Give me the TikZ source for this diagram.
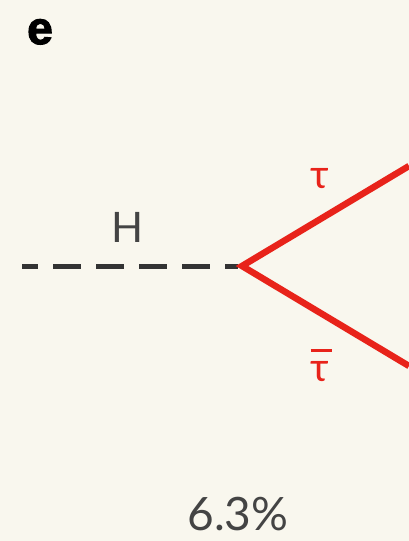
\documentclass[tikz,border=0pt]{standalone}
\usepackage{fontspec}
\setmainfont{Lato}
\newfontfamily\boldsans[FakeBold=2.5]{Liberation Sans}
\definecolor{bgcream}{HTML}{F9F7EE}
\definecolor{inkgray}{HTML}{444444}
\definecolor{taured}{HTML}{E8231A}
\begin{document}
\begin{tikzpicture}[x=1pt,y=-1pt,
  lbl/.style={inner sep=0pt, anchor=base},
  higgs/.style={draw=black!80, line width=5pt, dash pattern=on 28pt off 15pt, dash phase=12pt},
  fermion/.style={draw=taured, line width=6.5pt, miter limit=10}]
\fill[bgcream] (0,0) rectangle (409,541);
\useasboundingbox (0,0) rectangle (409,541);
\node[lbl] (panel) at (40,44) {\boldsans\fontsize{46}{46}\selectfont\bfseries e};
\coordinate (hstart) at (22,266);
\coordinate (vertex) at (242,266);
\coordinate (tauend) at (409,166);
\coordinate (taubarend) at (409,366);
\draw[higgs] (hstart) -- (238,266);
\draw[fermion] (tauend) -- (vertex) -- (taubarend);
\node[lbl, text=inkgray] (hlabel) at (128,242) {\fontsize{42}{42}\selectfont H};
\node[lbl, text=taured] (taulabel) at (320,188) {\fontsize{40}{40}\selectfont τ};
\node[lbl, text=taured] (taubarlabel) at (320,381) {\fontsize{40}{40}\selectfont\makebox[0pt][l]{\raisebox{29pt}{\rule{21pt}{2.8pt}}}τ};
\node[lbl, text=inkgray] (br) at (238,530) {\fontsize{46}{46}\selectfont 6.3\%};
\end{tikzpicture}
\end{document}
